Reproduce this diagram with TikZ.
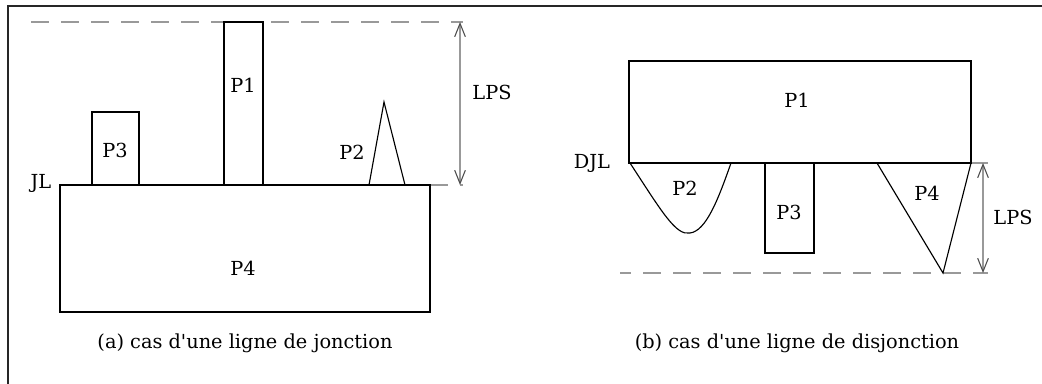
\documentclass[tikz,border=0pt]{standalone}
\usepackage{fontspec}
\setmainfont[Ligatures=TeXOff]{DejaVu Serif}
\usetikzlibrary{arrows.meta}
\tikzset{
  shape line/.style={draw=black, line width=0.85pt},
  guide/.style={draw=black!40, line width=0.8pt, dash pattern=on 13.5pt off 9pt},
  lpsarrow/.style={draw=black!40, line width=0.8pt, {Straight Barb[length=10pt,width=8pt,color=black!70]}-{Straight Barb[length=10pt,width=8pt,color=black!70]}},
  lbl/.style={font=\fontsize{14.5}{17}\selectfont, inner sep=0pt},
  captext/.style={font=\fontsize{14.5}{17}\selectfont, inner sep=0pt}
}
\begin{document}
\begin{tikzpicture}[x=0.75pt,y=-0.75pt]
\useasboundingbox (0,0) rectangle (1042,383);
\begin{scope}
\clip (0,0) rectangle (1042,383);
\draw[line width=1.4pt, draw=black!85] (8,6) rectangle (1070,400);
\end{scope}

% ---------- (a) junction line ----------
\draw[guide, dash phase=20pt] (28,22) -- (463,22);
\draw[guide] (430,185) -- (463,185);
\draw[shape line] (60,185) rectangle (430,312);   % P4
\draw[shape line] (224,22) rectangle (263,185);   % P1
\draw[shape line] (92,112) rectangle (139,185);   % P3
\draw[shape line] (369,185) -- (384,102) -- (405,185); % P2
\coordinate (aTop) at (460,22);
\coordinate (aBot) at (460,185);
\draw[lpsarrow] (aTop) -- (aBot);

\node[lbl] (aP1) at (243,85) {P1};
\node[lbl] (aP3) at (115,150) {P3};
\node[lbl] (aP2) at (352,152) {P2};
\node[lbl] (aP4) at (243,268) {P4};
\node[lbl] (aLPS) at (492,92) {LPS};
\node[lbl] (aJL) at (41,183) {JL};
\node[captext] (capa) at (245,343) {(a) cas d'une ligne de jonction};

% ---------- (b) disjunction line ----------
\draw[guide, dash phase=5pt] (620,273) -- (988,273);
\draw[draw=black!40, line width=0.8pt] (971,163) -- (988,163);
\draw[shape line] (629,61) rectangle (971,163);   % P1
\draw[shape line] (765,163) rectangle (814,253);  % P3
\draw[shape line] (630,163) .. controls (662,212) and (676,236) .. (690,233)
                  .. controls (706,231) and (718,200) .. (731,163); % P2
\draw[shape line] (877,163) -- (943,273) -- (971,163); % P4
\coordinate (bTop) at (983,163);
\coordinate (bBot) at (983,273);
\draw[lpsarrow] (bTop) -- (bBot);

\node[lbl] (bP1) at (797,100) {P1};
\node[lbl] (bP2) at (685,188) {P2};
\node[lbl] (bP3) at (789,212) {P3};
\node[lbl] (bP4) at (927,193) {P4};
\node[lbl] (bLPS) at (1013,217) {LPS};
\node[lbl] (bDJL) at (592,163) {DJL};
\node[captext] (capb) at (797,343) {(b) cas d'une ligne de disjonction};
\end{tikzpicture}
\end{document}
